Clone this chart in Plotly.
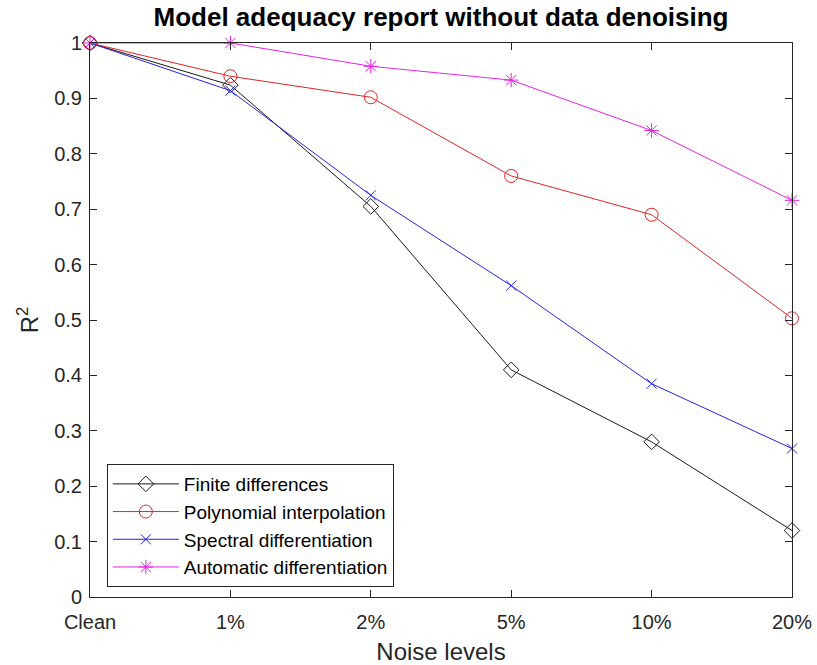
import plotly.graph_objects as go

categories = ["Clean", "1%", "2%", "5%", "10%", "20%"]
finite_diff = [1.0, 0.924, 0.705, 0.41, 0.28, 0.12]
poly_interp = [1.0, 0.94, 0.902, 0.76, 0.69, 0.503]
spectral_diff = [1.0, 0.914, 0.725, 0.562, 0.385, 0.268]
auto_diff = [1.0, 1.0, 0.958, 0.933, 0.842, 0.716]

series = [
    ("Finite differences", finite_diff, "#1a1a1a", "diamond-open", 12),
    ("Polynomial interpolation", poly_interp, "#e02424", "circle-open", 13),
    ("Spectral differentiation", spectral_diff, "#2424e0", "x-thin-open", 10),
    ("Automatic differentiation", auto_diff, "#e622e6", "asterisk-open", 12),
]

fig = go.Figure()
for name, vals, color, sym, size in series:
    fig.add_trace(go.Scatter(
        x=categories, y=vals, name=name, mode="lines+markers",
        line=dict(color=color, width=1),
        marker=dict(symbol=sym, size=size, color=color, line=dict(color=color, width=1)),
        cliponaxis=False,
    ))

font_family = "Liberation Sans, Arial, sans-serif"
axcol = "#262626"
fig.update_layout(
    width=817, height=665,
    margin=dict(l=90, r=25, t=43, b=68),
    paper_bgcolor="white", plot_bgcolor="white",
    font=dict(family=font_family, size=20, color=axcol),
    title=dict(text="<b>Model adequacy report without data denoising</b>",
               x=(90 + 792) / 2 / 817, xanchor="center", y=0.975, yanchor="middle",
               font=dict(size=26, color="black", family=font_family)),
    showlegend=True,
    legend=dict(x=0.024, y=0.018, xanchor="left", yanchor="bottom",
                bgcolor="white", bordercolor=axcol, borderwidth=1,
                font=dict(size=19, color="black", family=font_family),
                itemwidth=66, tracegroupgap=0),
)
fig.update_xaxes(
    type="category", range=[0, 5], showgrid=False, zeroline=False, automargin=False,
    showline=True, linecolor=axcol, linewidth=1, mirror="ticks",
    ticks="inside", ticklen=7, tickcolor=axcol, ticklabelstandoff=7,
    tickfont=dict(size=20, color=axcol),
    title=dict(text="Noise levels", font=dict(size=24, color=axcol), standoff=14),
)
fig.update_yaxes(
    range=[0, 1], dtick=0.1, showgrid=False, zeroline=False, automargin=False,
    showline=True, linecolor=axcol, linewidth=1, mirror="ticks",
    ticks="inside", ticklen=7, tickcolor=axcol, ticklabelstandoff=3,
    tickfont=dict(size=20, color=axcol),
    title=dict(text="R<sup>2</sup>", font=dict(size=24, color=axcol), standoff=8),
)

fig.write_html("out.html")
